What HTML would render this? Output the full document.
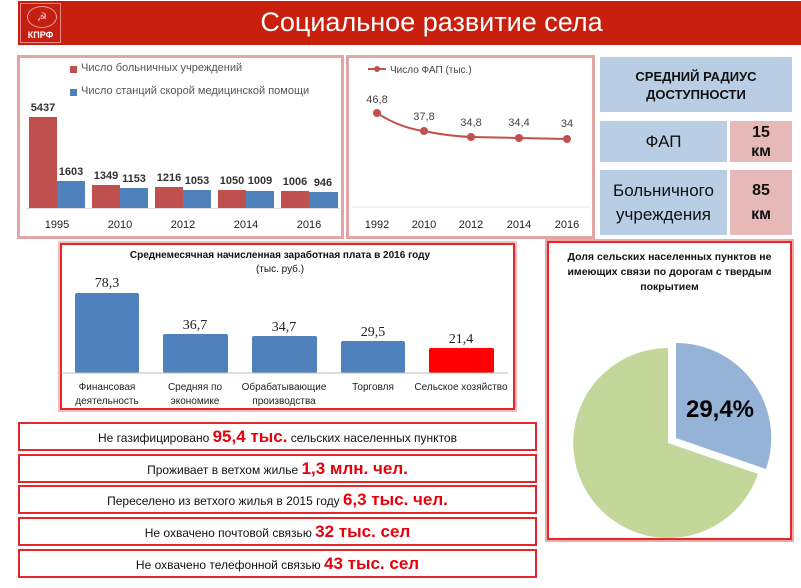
<!DOCTYPE html>
<html><head><meta charset="utf-8"><style>
body{margin:0;width:801px;height:588px;background:#fff;position:relative;overflow:hidden;font-family:"Liberation Sans","DejaVu Sans",sans-serif;}
.a{position:absolute;}
.box{position:absolute;box-sizing:border-box;}
.t{position:absolute;white-space:nowrap;text-align:center;}
.bot{position:absolute;left:18px;width:519px;box-sizing:border-box;border:2px solid #e8262a;height:29px;font-size:12px;color:#111;text-align:center;line-height:25px;}
.bot b{color:#e8000b;font-size:17px;}
</style></head><body>
<div class="a" style="left:18px;top:1px;width:783px;height:44px;background:#c9200e"></div>
<div class="a" style="left:20px;top:3px;width:41px;height:40px;background:#c41f10;border:1px solid #e88;box-sizing:border-box"></div>
<div class="t" style="left:27px;top:6px;width:28px;height:20px;border:1px solid #f0a0a0;border-radius:50%;color:#fbd;font-size:12px;line-height:20px">☭</div>
<div class="t" style="left:20px;top:30px;width:41px;font-size:9px;font-weight:bold;color:#fff">КПРФ</div>
<div class="t" style="left:62px;top:6px;width:739px;font-size:27px;color:#fff;line-height:32px">Социальное развитие села</div>

<!-- chart1 -->
<div class="box" style="left:17px;top:55px;width:327px;height:184px;border:3px solid #e2a4a4"></div>
<div class="a" style="left:70px;top:66px;width:7px;height:7px;background:#c0504d"></div>
<div class="t" style="left:81px;top:62px;font-size:11px;color:#555;text-align:left">Число больничных учреждений</div>
<div class="a" style="left:70px;top:89px;width:7px;height:7px;background:#4f81bd"></div>
<div class="t" style="left:81px;top:85px;font-size:11px;color:#555;text-align:left">Число станций скорой медицинской помощи</div>
<div class="a" style="left:26px;top:208px;width:314px;height:1px;background:#ddd"></div>
<svg class="a" style="left:0;top:0" width="801" height="588">
<g fill="#c0504d"><rect x="29" y="117" width="28" height="91"/><rect x="92" y="185" width="28" height="23"/><rect x="155" y="187" width="28" height="21"/><rect x="218" y="190" width="28" height="18"/><rect x="281" y="191" width="28" height="17"/></g>
<g fill="#4f81bd"><rect x="57" y="181" width="28" height="27"/><rect x="120" y="188" width="28" height="20"/><rect x="183" y="190" width="28" height="18"/><rect x="246" y="191" width="28" height="17"/><rect x="309" y="192" width="29" height="16"/></g>
<g font-size="11" font-weight="bold" fill="#333" text-anchor="middle" font-family="Liberation Sans">
<text x="43" y="111">5437</text><text x="71" y="175">1603</text><text x="106" y="179">1349</text><text x="134" y="182">1153</text><text x="169" y="181">1216</text><text x="197" y="184">1053</text><text x="232" y="184">1050</text><text x="260" y="184">1009</text><text x="295" y="185">1006</text><text x="323" y="186">946</text>
</g>
<g font-size="11" fill="#222" text-anchor="middle" font-family="Liberation Sans">
<text x="57" y="228">1995</text><text x="120" y="228">2010</text><text x="183" y="228">2012</text><text x="246" y="228">2014</text><text x="309" y="228">2016</text>
<text x="377" y="228">1992</text><text x="424" y="228">2010</text><text x="471" y="228">2012</text><text x="519" y="228">2014</text><text x="567" y="228">2016</text>
</g>
<line x1="352" y1="207" x2="590" y2="207" stroke="#e6e6e6"/>
<path d="M377 113 Q400 128 424 131 Q447 136 471 137 L519 138 L567 139" fill="none" stroke="#c0504d" stroke-width="2"/>
<g fill="#c0504d"><circle cx="377" cy="113" r="4"/><circle cx="424" cy="131" r="4"/><circle cx="471" cy="137" r="4"/><circle cx="519" cy="138" r="4"/><circle cx="567" cy="139" r="4"/></g>
<line x1="368" y1="69" x2="386" y2="69" stroke="#c0504d" stroke-width="2"/><circle cx="377" cy="69" r="3" fill="#c0504d"/>
<g font-size="11" fill="#444" text-anchor="middle" font-family="Liberation Sans">
<text x="377" y="103">46,8</text><text x="424" y="120">37,8</text><text x="471" y="126">34,8</text><text x="519" y="126">34,4</text><text x="567" y="127">34</text>
<text x="390" y="73" text-anchor="start" font-size="10">Число ФАП (тыс.)</text>
</g>
<!-- mid chart bars -->
<g fill="#4f81bd"><rect x="75" y="293" width="64" height="80" rx="2"/><rect x="163" y="334" width="65" height="39" rx="2"/><rect x="252" y="336" width="65" height="37" rx="2"/><rect x="341" y="341" width="64" height="32" rx="2"/></g>
<rect x="429" y="348" width="65" height="25" fill="#ff0000" rx="2"/>
<line x1="63" y1="373" x2="508" y2="373" stroke="#bbb"/>
<g font-size="14" fill="#222" text-anchor="middle" font-family="Liberation Serif">
<text x="107" y="287">78,3</text><text x="195" y="329">36,7</text><text x="284" y="331">34,7</text><text x="373" y="336">29,5</text><text x="461" y="343">21,4</text>
</g>
<g font-size="10" fill="#222" text-anchor="middle" font-family="Liberation Sans">
<text x="107" y="390">Финансовая</text><text x="107" y="404">деятельность</text>
<text x="195" y="390">Средняя по</text><text x="195" y="404">экономике</text>
<text x="284" y="390">Обрабатывающие</text><text x="284" y="404">производства</text>
<text x="373" y="390">Торговля</text><text x="461" y="390">Сельское хозяйство</text>
</g>
<text x="280" y="258" font-size="10" font-weight="bold" text-anchor="middle" fill="#111" font-family="Liberation Sans">Среднемесячная начисленная заработная плата в 2016 году</text>
<text x="280" y="272" font-size="10" text-anchor="middle" fill="#111" font-family="Liberation Sans">(тыс. руб.)</text>
<!-- pie -->
<path d="M668 443 L668 348 A95 95 0 1 0 758 474 Z" fill="#c4d79b"/>
<path d="M676 438 L676 343 A95 95 0 0 1 766 469 Z" fill="#95b3d7"/>
<text x="720" y="417" font-size="24" font-weight="bold" text-anchor="middle" fill="#000" font-family="Liberation Sans">29,4%</text>
</svg>
<div class="box" style="left:346px;top:55px;width:249px;height:184px;border:3px solid #e2a4a4"></div>

<div class="box" style="left:600px;top:57px;width:192px;height:55px;background:#b9cde5;font-size:13px;font-weight:bold;text-align:center;padding-top:11px;line-height:18px;color:#111">СРЕДНИЙ РАДИУС<br>ДОСТУПНОСТИ</div>
<div class="box" style="left:600px;top:121px;width:127px;height:41px;background:#b9cde5;font-size:17px;text-align:center;line-height:41px;color:#111">ФАП</div>
<div class="box" style="left:730px;top:121px;width:62px;height:41px;background:#e6b9b8;font-size:16px;font-weight:bold;text-align:center;line-height:19px;padding-top:2px;color:#111">15<br>км</div>
<div class="box" style="left:600px;top:170px;width:127px;height:65px;background:#b9cde5;font-size:17px;text-align:center;line-height:24px;padding-top:9px;color:#111">Больничного<br>учреждения</div>
<div class="box" style="left:730px;top:170px;width:62px;height:65px;background:#e6b9b8;font-size:16px;font-weight:bold;text-align:center;line-height:24px;padding-top:9px;color:#111">85<br>км</div>

<div class="box" style="left:58px;top:241px;width:459px;height:171px;border:2px solid #f3c0c0"></div>
<div class="box" style="left:60px;top:243px;width:455px;height:167px;border:2px solid #e8262a"></div>

<div class="box" style="left:545px;top:239px;width:249px;height:303px;border:2px solid #f0a8a8"></div>
<div class="box" style="left:547px;top:241px;width:245px;height:299px;border:2px solid #e8262a"></div>
<div class="t" style="left:549px;top:250px;width:241px;font-size:10.5px;font-weight:bold;line-height:15px;color:#111;white-space:normal">Доля сельских населенных пунктов не имеющих связи по дорогам с твердым покрытием</div>

<div class="bot" style="top:422px">Не газифицировано <b>95,4 тыс.</b> сельских населенных пунктов</div>
<div class="bot" style="top:454px">Проживает в ветхом жилье <b>1,3 млн. чел.</b></div>
<div class="bot" style="top:485px">Переселено из ветхого жилья в 2015 году <b>6,3 тыс. чел.</b></div>
<div class="bot" style="top:517px">Не охвачено почтовой связью <b>32 тыс. сел</b></div>
<div class="bot" style="top:549px">Не охвачено телефонной связью <b>43 тыс. сел</b></div>
</body></html>
